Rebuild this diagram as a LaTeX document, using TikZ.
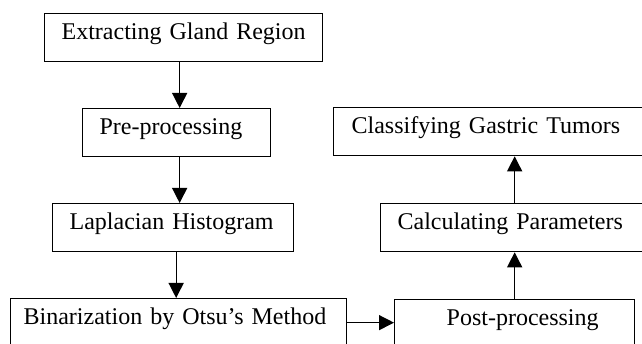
\documentclass[tikz,border=0pt]{standalone}
\usepackage{fontspec}
\setmainfont{Liberation Serif}
\usetikzlibrary{arrows.meta}

\begin{document}
\begin{tikzpicture}[x=1pt,y={(0pt,-1pt)},
      stage/.style={draw,line width=1.3pt,anchor=north west,align=left,
        inner xsep=17pt,inner ysep=0pt,text height=26pt,text depth=22pt,
        text width=#1,font=\fontsize{24}{28}\selectfont},
      flow/.style={-{Triangle[length=15pt,width=15pt]},line width=1.3pt}
    ]
      \useasboundingbox (0,0) rectangle (642,344);
      \clip (0,0) rectangle (642,344);
      % left column
      \node[stage=244pt] (extract) at (44,13) {Extracting Gland Region};
      \node[stage=154pt] (prep) at (82,108) {Pre-processing};
      \node[stage=207pt] (lap) at (52,203) {Laplacian Histogram};
      \node[stage=310pt,inner xsep=13pt] (bin) at (10,298) {Binarization by Otsu's Method};
      % right column
      \node[stage=168pt,inner xsep=36pt,align=right] (post) at (394,299) {Post-processing};
      \node[stage=266pt] (calc) at (380,203) {Calculating Parameters};
      \node[stage=304pt,inner xsep=18pt] (classify) at (333,107) {Classifying Gastric Tumors};
      % arrows
      \draw[flow] ([xshift=-4pt]extract.south) -- ([xshift=-4pt]extract.south |- prep.north);
      \draw[flow] ([xshift=3pt]prep.south) -- ([xshift=3pt]prep.south |- lap.north);
      \draw[flow] ([xshift=3pt]lap.south) -- ([xshift=3pt]lap.south |- bin.north);
      \draw[flow] (bin.east) -- (bin.east -| post.west);
      \draw[flow] (post.north) -- (post.north |- calc.south);
      \draw[flow] (post.north |- calc.north) -- (post.north |- classify.south);
    \end{tikzpicture}
\end{document}
